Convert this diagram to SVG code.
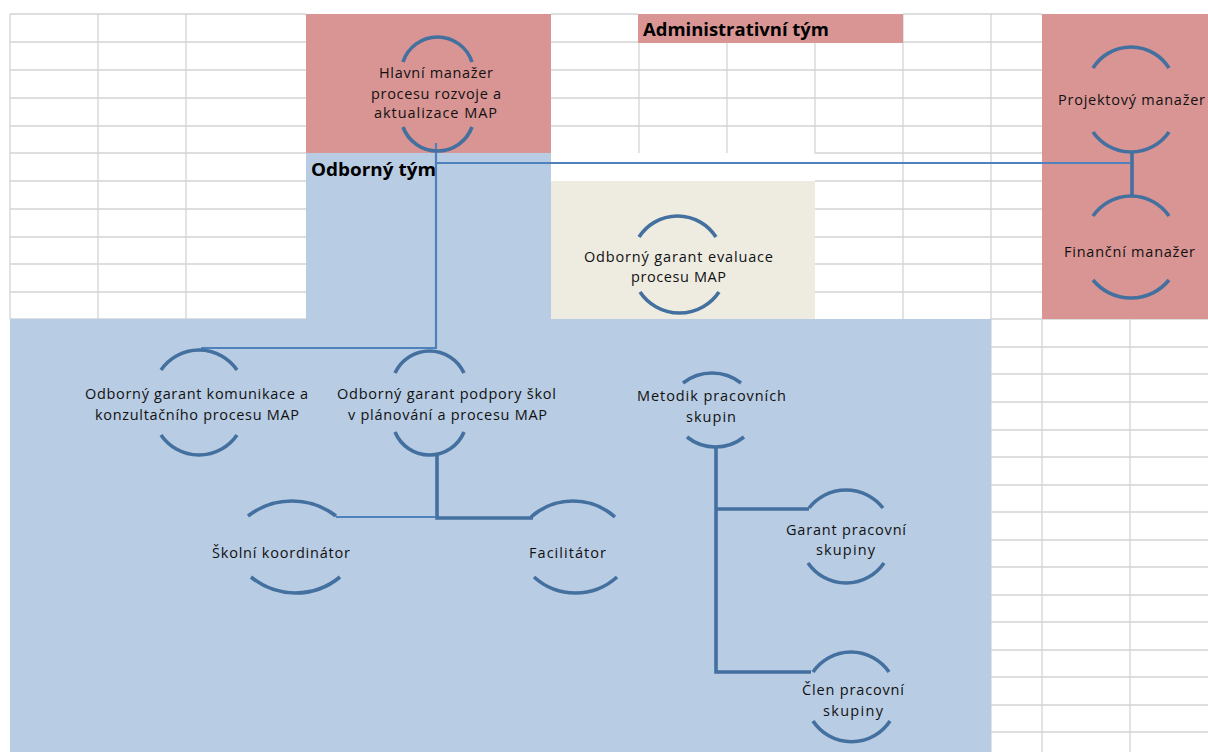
<svg xmlns="http://www.w3.org/2000/svg" width="1208" height="752" viewBox="0 0 1208 752">
<style>
.grid{stroke:#d4d4d4;stroke-width:1.3;fill:none}
.arc{stroke:#44709f;stroke-width:3.6;fill:none;stroke-linecap:butt}
.thin{stroke:#4f81bd;stroke-width:2.2;fill:none}
.thick{stroke:#44709f;stroke-width:3.6;fill:none}
.t{font-family:"Open Sans","Noto Sans","Liberation Sans",sans-serif;font-size:14.5px;fill:#111}
.h{font-family:"Open Sans","Noto Sans","Liberation Sans",sans-serif;font-weight:bold;fill:#000}
</style>
<rect x="0" y="0" width="1208" height="752" fill="#ffffff"/>
<g id="grid">
<path class="grid" d="M10,14H306M10,42H306M10,70H306M10,98H306M10,126H306M10,153H306M10,181H306M10,209H306M10,237H306M10,264H306M10,292H306M10,319H306M10,14V319M98,14V319M186,14V319"/>
<path class="grid" d="M551,14H638M551,42H903M551,70H903M551,98H903M551,126H903M639,42V153M727,42V153M815,42V153H1042"/>
<path class="grid" d="M903,14H1042M903,42H1042M903,70H1042M903,98H1042M903,126H1042M815,181H1042M815,209H1042M815,237H1042M815,264H1042M815,292H1042M991,319H1208M903,14V319M991,14V752"/>
<path class="grid" d="M991,347H1208M991,374H1208M991,402H1208M991,430H1208M991,457H1208M991,485H1208M991,512H1208M991,540H1208M991,567H1208M991,595H1208M991,622H1208M991,650H1208M991,677H1208M991,705H1208M991,732H1208M1042,319V752M1130,319V752"/>
</g>
<g id="regions">
<rect x="306" y="14" width="245" height="139" fill="#d99594"/>
<rect x="1042" y="14" width="166" height="305" fill="#d99594"/>
<rect x="638" y="14" width="265" height="29" fill="#d99594"/>
<path d="M306,153H551V319H991V752H10V319H306Z" fill="#b8cce4"/>
<rect x="551" y="181" width="264" height="138" fill="#eeece1"/>
<text class="h" x="643" y="36" font-size="18" textLength="186" lengthAdjust="spacingAndGlyphs">Administrativní tým</text>
<text class="h" x="311" y="176" font-size="17.5" textLength="125" lengthAdjust="spacingAndGlyphs">Odborný tým</text>
</g>
<g id="connectors">
<path class="thin" d="M436,143V348M201,348H437M437,163H1130M336,517H435"/>
<path class="thick" d="M1132,152V196M437,455V518H533M716,447V672H811M716,509H809"/>
</g>
<g id="n1">
<path class="arc" d="M403,62A36.3,36.3 0 0 1 472,62M403,127A36.8,36.8 0 0 0 472,127"/>
<text class="t" x="379" y="78" textLength="114">Hlavní manažer</text>
<text class="t" x="371" y="99" textLength="130">procesu rozvoje a</text>
<text class="t" x="374" y="118" textLength="123">aktualizace MAP</text>
</g>
<g id="n2">
<path class="arc" d="M639,237A45.8,45.8 0 0 1 716,237M640,292A47.6,47.6 0 0 0 719,292"/>
<text class="t" x="584" y="262" textLength="189">Odborný garant evaluace</text>
<text class="t" x="631" y="282" textLength="95">procesu MAP</text>
</g>
<g id="n3">
<path class="arc" d="M1093,68A44.9,44.9 0 0 1 1169,68M1093,132A46.1,46.1 0 0 0 1169,132"/>
<text class="t" x="1058" y="105" textLength="147">Projektový manažer</text>
</g>
<g id="n4">
<path class="arc" d="M1093,216A46.1,46.1 0 0 1 1169,216M1093,280A49.1,49.1 0 0 0 1169,280"/>
<text class="t" x="1064" y="257" textLength="131">Finanční manažer</text>
</g>
<g id="n5">
<path class="arc" d="M161,370A46.1,46.1 0 0 1 237,370M161,435A46.1,46.1 0 0 0 237,435"/>
<text class="t" x="85" y="399" textLength="223">Odborný garant komunikace a</text>
<text class="t" x="95" y="420" textLength="204">konzultačního procesu MAP</text>
</g>
<g id="n6">
<path class="arc" d="M395,373A38,38 0 0 1 464,373M395,432A37.4,37.4 0 0 0 464,432"/>
<text class="t" x="337" y="399" textLength="219">Odborný garant podpory škol</text>
<text class="t" x="348" y="420" textLength="199">v plánování a procesu MAP</text>
</g>
<g id="n7">
<path class="arc" d="M248,516A72,72 0 0 1 336,516M251,577A69.9,69.9 0 0 0 340,577"/>
<text class="t" x="212" y="558" textLength="138">Školní koordinátor</text>
</g>
<g id="n8">
<path class="arc" d="M531,517A63,63 0 0 1 615,517M534,577A61.8,61.8 0 0 0 617,577"/>
<text class="t" x="529" y="558" textLength="77">Facilitátor</text>
</g>
<g id="n9">
<path class="arc" d="M683,383A47,47 0 0 1 741,383M687,437A45.6,45.6 0 0 0 744,437"/>
<text class="t" x="637" y="401" textLength="149">Metodik pracovních</text>
<text class="t" x="686" y="422" textLength="50">skupin</text>
</g>
<g id="n10">
<path class="arc" d="M809,508A47,47 0 0 1 883,508M808,563A46.1,46.1 0 0 0 884,563"/>
<text class="t" x="786" y="535" textLength="120">Garant pracovní</text>
<text class="t" x="816" y="555" textLength="59">skupiny</text>
</g>
<g id="n11">
<path class="arc" d="M813,672A46.1,46.1 0 0 1 889,672M813,721A46.1,46.1 0 0 0 890,721"/>
<text class="t" x="802" y="695" textLength="102">Člen pracovní</text>
<text class="t" x="823" y="716" textLength="60">skupiny</text>
</g>
</svg>
